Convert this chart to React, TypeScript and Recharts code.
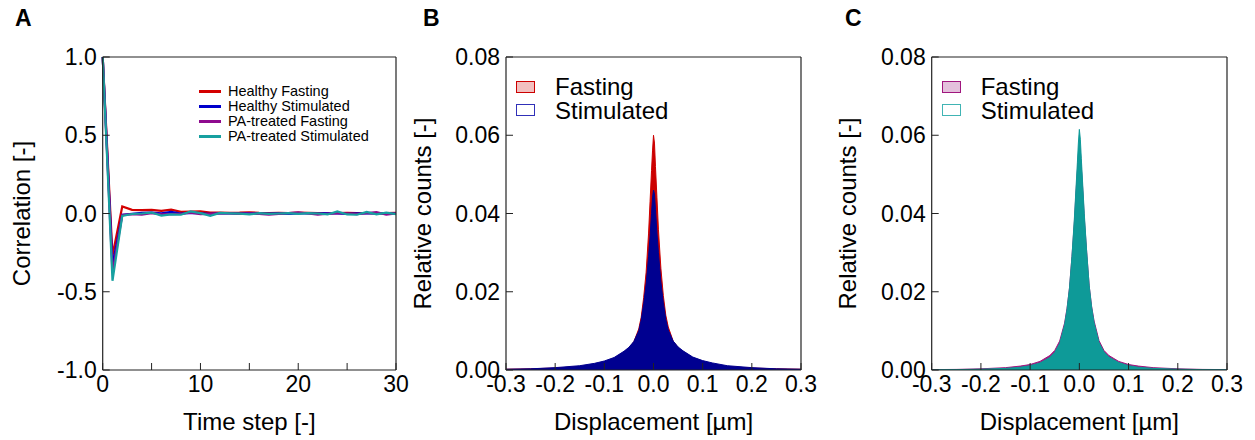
import { ComposedChart, Line, Area, XAxis, YAxis, Legend } from "recharts";

// Panel A: autocorrelation vs time step
const steps = [0, 1, 2, 3, 4, 5, 6, 7, 8, 9, 10, 11, 12, 13, 14, 15, 16, 17, 18, 19, 20, 21, 22, 23, 24, 25, 26, 27, 28, 29, 30];
const healthyFasting = [1.0, -0.27, 0.045, 0.023, 0.022, 0.023, 0.017, 0.025, 0.01, 0.012, 0.013, 0.006, 0.005, 0.004, 0.005, 0.008, 0.004, 0.003, 0.004, 0.002, 0.005, 0.004, 0.002, 0.001, 0.003, 0.004, 0.002, 0.003, 0.001, 0.002, 0.004];
const healthyStimulated = [1.0, -0.33, -0.008, -0.002, 0.004, 0.006, 0.001, 0.01, 0.0, 0.004, 0.001, -0.002, 0.001, 0.0, -0.001, 0.002, -0.001, 0.0, 0.001, -0.002, 0.001, 0.0, -0.001, 0.002, 0.0, -0.002, 0.001, 0.0, 0.002, -0.001, 0.0];
const paFasting = [1.0, -0.38, -0.01, -0.004, -0.008, 0.002, -0.006, -0.004, -0.003, 0.006, -0.004, -0.002, 0.002, 0.0, -0.003, 0.001, -0.002, -0.008, -0.002, 0.003, 0.008, 0.0, -0.008, -0.001, 0.004, 0.0, -0.004, 0.003, 0.009, -0.007, 0.001];
const paStimulated = [1.0, -0.43, -0.015, -0.003, 0.0, 0.006, -0.013, -0.006, -0.008, 0.013, 0.002, -0.015, 0.004, 0.001, -0.001, -0.006, 0.002, -0.002, 0.0, 0.002, -0.002, 0.002, 0.0, -0.006, 0.013, -0.006, -0.008, 0.01, -0.006, 0.006, -0.004];
const stepTicks = [0, 5, 10, 15, 20, 25, 30];
const corrTicks = [-1, -0.5, 0, 0.5, 1];

// Panels B/C: displacement histograms (bin centres, relative counts)
const displacement = [-0.3, -0.25, -0.2, -0.15, -0.12, -0.1, -0.08, -0.06, -0.05, -0.04, -0.03, -0.025, -0.02, -0.015, -0.01, -0.007, -0.004, -0.002, 0, 0.002, 0.004, 0.007, 0.01, 0.015, 0.02, 0.025, 0.03, 0.04, 0.05, 0.06, 0.08, 0.1, 0.12, 0.15, 0.2, 0.25, 0.3];
const healthyFastingHist = [0.0002, 0.0003, 0.0005, 0.0009, 0.0014, 0.002, 0.003, 0.0046, 0.0056, 0.0072, 0.0105, 0.0135, 0.0185, 0.025, 0.035, 0.043, 0.051, 0.056, 0.06, 0.058, 0.052, 0.044, 0.036, 0.026, 0.019, 0.014, 0.011, 0.0074, 0.0057, 0.0047, 0.0031, 0.0021, 0.0015, 0.0009, 0.0005, 0.0003, 0.0002];
const healthyStimulatedHist = [0.0002, 0.0003, 0.0006, 0.0011, 0.0017, 0.0023, 0.0032, 0.0048, 0.0058, 0.0073, 0.01, 0.0128, 0.017, 0.022, 0.029, 0.034, 0.04, 0.044, 0.046, 0.045, 0.041, 0.035, 0.03, 0.0225, 0.0172, 0.013, 0.0102, 0.0074, 0.0059, 0.0049, 0.0033, 0.0024, 0.0018, 0.0011, 0.0006, 0.0003, 0.0002];
const paFastingHist = [0.0001, 0.00015, 0.0003, 0.0006, 0.001, 0.0014, 0.0022, 0.0037, 0.005, 0.0074, 0.012, 0.0158, 0.021, 0.029, 0.038, 0.045, 0.051, 0.055, 0.058, 0.056, 0.052, 0.046, 0.039, 0.03, 0.0215, 0.0162, 0.0125, 0.0075, 0.005, 0.0037, 0.0022, 0.0014, 0.001, 0.0006, 0.0003, 0.00015, 0.0001];
const paStimulatedHist = [0.00005, 0.0001, 0.0002, 0.0004, 0.0007, 0.0011, 0.0018, 0.0032, 0.0045, 0.0068, 0.0115, 0.0155, 0.021, 0.029, 0.039, 0.046, 0.053, 0.058, 0.0615, 0.059, 0.054, 0.047, 0.04, 0.03, 0.0215, 0.016, 0.012, 0.007, 0.0046, 0.0033, 0.0019, 0.0011, 0.0007, 0.0004, 0.0002, 0.0001, 0.00005];
const dispTicks = [-0.3, -0.2, -0.1, 0, 0.1, 0.2, 0.3];
const countTicks = [0, 0.02, 0.04, 0.06, 0.08];

const font = "'Liberation Sans', Arial, Helvetica, sans-serif";
const ink = "#222";
const tickStyle = { fill: "#000", fontSize: 23, fontFamily: font };
const titleStyle = { fill: "#000", fontSize: 24, fontFamily: font, textAnchor: "middle" as const };

const corrSeries = [
  { key: "hf", name: "Healthy Fasting", color: "#d40000", values: healthyFasting },
  { key: "hs", name: "Healthy Stimulated", color: "#0000cc", values: healthyStimulated },
  { key: "pf", name: "PA-treated Fasting", color: "#8e0a8e", values: paFasting },
  { key: "ps", name: "PA-treated Stimulated", color: "#17a0a0", values: paStimulated },
];

const corrData = steps.map((s, i) => {
  const row: Record<string, number> = { step: s };
  corrSeries.forEach((c) => (row[c.key] = c.values[i]));
  return row;
});

const W = 420;
const H = 440;

const CorrLegend = () => (
  <div style={{ fontFamily: font, fontSize: 14.5, lineHeight: "15px", color: "#000" }}>
    {corrSeries.map((s) => (
      <div key={s.key} style={{ display: "flex", alignItems: "center", height: 15, whiteSpace: "nowrap" }}>
        <span style={{ display: "inline-block", width: 22, height: 3, background: s.color, marginRight: 7 }} />
        {s.name}
      </div>
    ))}
  </div>
);

const CorrelationPanel = () => (
  <ComposedChart width={W} height={H} data={corrData} margin={{ top: 56, right: 23, bottom: 8, left: 12.7 }}>
    <XAxis
      dataKey="step"
      type="number"
      domain={[0, 30]}
      ticks={stepTicks}
      interval={0}
      height={62}
      tickSize={-7}
      tickMargin={13}
      tick={tickStyle}
      tickFormatter={(v: number) => (v % 10 === 0 ? String(v) : "")}
      axisLine={{ stroke: ink, strokeWidth: 1.2 }}
      tickLine={{ stroke: ink }}
      label={{ value: "Time step [-]", position: "insideBottom", offset: 2, style: titleStyle }}
    />
    <XAxis xAxisId="t" orientation="top" dataKey="step" type="number" domain={[0, 30]} ticks={stepTicks} interval={0} height={1} tickSize={-7} tick={false} axisLine={{ stroke: ink, strokeWidth: 1.2 }} tickLine={{ stroke: ink }} />
    <YAxis
      type="number"
      domain={[-1, 1]}
      ticks={corrTicks}
      interval={0}
      width={90}
      tickSize={-7}
      tickMargin={13}
      tick={tickStyle}
      tickFormatter={(v: number) => v.toFixed(1)}
      axisLine={{ stroke: ink, strokeWidth: 1.2 }}
      tickLine={{ stroke: ink }}
      label={{ value: "Correlation [-]", angle: -90, position: "insideLeft", offset: 9, style: titleStyle }}
    />
    <YAxis yAxisId="r" orientation="right" type="number" domain={[-1, 1]} ticks={corrTicks} interval={0} width={1} tickSize={-7} tick={false} axisLine={{ stroke: ink, strokeWidth: 1.2 }} tickLine={{ stroke: ink }} />
    {corrSeries.map((s) => (
      <Line key={s.key} dataKey={s.key} name={s.name} stroke={s.color} strokeWidth={2.2} dot={false} activeDot={false} isAnimationActive={false} />
    ))}
    <Legend layout="vertical" align="center" verticalAlign="middle" wrapperStyle={{ left: 199, top: 84, width: 200 }} content={() => <CorrLegend />} />
  </ComposedChart>
);

type HistProps = {
  fasting: number[];
  stimulated: number[];
  fastingColor: string;
  stimulatedColor: string;
  fastingPatch: string;
  stimulatedEdge: string;
  marginLeft: number;
  marginRight: number;
  titleOffset: number;
};

const HistLegend = ({ fastingColor, fastingPatch, stimulatedEdge }: { fastingColor: string; fastingPatch: string; stimulatedEdge: string }) => (
  <div style={{ fontFamily: font, fontSize: 24, lineHeight: "23.5px", color: "#000" }}>
    {[
      { name: "Fasting", fill: fastingPatch, edge: fastingColor },
      { name: "Stimulated", fill: "#fff", edge: stimulatedEdge },
    ].map((r) => (
      <div key={r.name} style={{ display: "flex", alignItems: "center", whiteSpace: "nowrap" }}>
        <span style={{ display: "inline-block", boxSizing: "border-box", width: 19, height: 12, background: r.fill, border: `1.3px solid ${r.edge}`, marginRight: 20 }} />
        {r.name}
      </div>
    ))}
  </div>
);

const HistogramPanel = (p: HistProps) => {
  const data = displacement.map((x, i) => ({ x, fasting: p.fasting[i], stimulated: p.stimulated[i] }));
  return (
    <ComposedChart width={W} height={H} data={data} margin={{ top: 56, right: p.marginRight, bottom: 8, left: p.marginLeft }}>
      <XAxis
        dataKey="x"
        type="number"
        domain={[-0.3, 0.3]}
        allowDataOverflow
        ticks={dispTicks}
        interval={0}
        height={62}
        tickSize={-7}
        tickMargin={13}
        tick={tickStyle}
        tickFormatter={(v: number) => v.toFixed(1)}
        axisLine={{ stroke: ink, strokeWidth: 1.2 }}
        tickLine={{ stroke: ink }}
        label={{ value: "Displacement [µm]", position: "insideBottom", offset: 2, style: titleStyle }}
      />
      <XAxis xAxisId="t" orientation="top" dataKey="x" type="number" domain={[-0.3, 0.3]} allowDataOverflow ticks={dispTicks} interval={0} height={1} tickSize={-7} tick={false} axisLine={{ stroke: ink, strokeWidth: 1.2 }} tickLine={{ stroke: ink }} />
      <YAxis
        type="number"
        domain={[0, 0.08]}
        allowDataOverflow
        ticks={countTicks}
        interval={0}
        width={90}
        tickSize={-7}
        tickMargin={13}
        tick={tickStyle}
        tickFormatter={(v: number) => v.toFixed(2)}
        axisLine={{ stroke: ink, strokeWidth: 1.2 }}
        tickLine={{ stroke: ink }}
        label={{ value: "Relative counts [-]", angle: -90, position: "insideLeft", offset: p.titleOffset, style: titleStyle }}
      />
      <YAxis yAxisId="r" orientation="right" type="number" domain={[0, 0.08]} allowDataOverflow ticks={countTicks} interval={0} width={1} tickSize={-7} tick={false} axisLine={{ stroke: ink, strokeWidth: 1.2 }} tickLine={{ stroke: ink }} />
      <Area type="linear" dataKey="fasting" name="Fasting" stroke={p.fastingColor} strokeWidth={1} fill={p.fastingColor} fillOpacity={1} dot={false} activeDot={false} isAnimationActive={false} />
      <Area type="linear" dataKey="stimulated" name="Stimulated" stroke={p.stimulatedColor} strokeWidth={1} fill={p.stimulatedColor} fillOpacity={1} dot={false} activeDot={false} isAnimationActive={false} />
      <Legend
        layout="vertical"
        align="center"
        verticalAlign="middle"
        wrapperStyle={{ left: p.marginLeft + 90 + 10, top: 75, width: 200 }}
        content={() => <HistLegend fastingColor={p.fastingColor} fastingPatch={p.fastingPatch} stimulatedEdge={p.stimulatedEdge} />}
      />
    </ComposedChart>
  );
};

const letterStyle = { position: "absolute" as const, top: 7, fontFamily: font, fontWeight: 700, fontSize: 23, lineHeight: "23px", color: "#000" };

export default function App() {
  return (
    <div style={{ position: "absolute", left: 0, top: 0, width: 1255, height: 440, background: "#fff", overflow: "hidden" }}>
      <div style={{ position: "absolute", left: 0, top: 0 }}>
        <CorrelationPanel />
      </div>
      <div style={{ position: "absolute", left: 410, top: 0 }}>
        <HistogramPanel
          fasting={healthyFastingHist}
          stimulated={healthyStimulatedHist}
          fastingColor="#cc0000"
          stimulatedColor="#000090"
          fastingPatch="#f2c0c0"
          stimulatedEdge="#3030b8"
          marginLeft={6}
          marginRight={28}
          titleOffset={6}
        />
      </div>
      <div style={{ position: "absolute", left: 835, top: 0 }}>
        <HistogramPanel
          fasting={paFastingHist}
          stimulated={paStimulatedHist}
          fastingColor="#a0167e"
          stimulatedColor="#0e9a98"
          fastingPatch="#e4c0dc"
          stimulatedEdge="#40b4b4"
          marginLeft={6.7}
          marginRight={27}
          titleOffset={5.3}
        />
      </div>
      <div style={{ ...letterStyle, left: 15 }}>A</div>
      <div style={{ ...letterStyle, left: 423 }}>B</div>
      <div style={{ ...letterStyle, left: 845 }}>C</div>
    </div>
  );
}
